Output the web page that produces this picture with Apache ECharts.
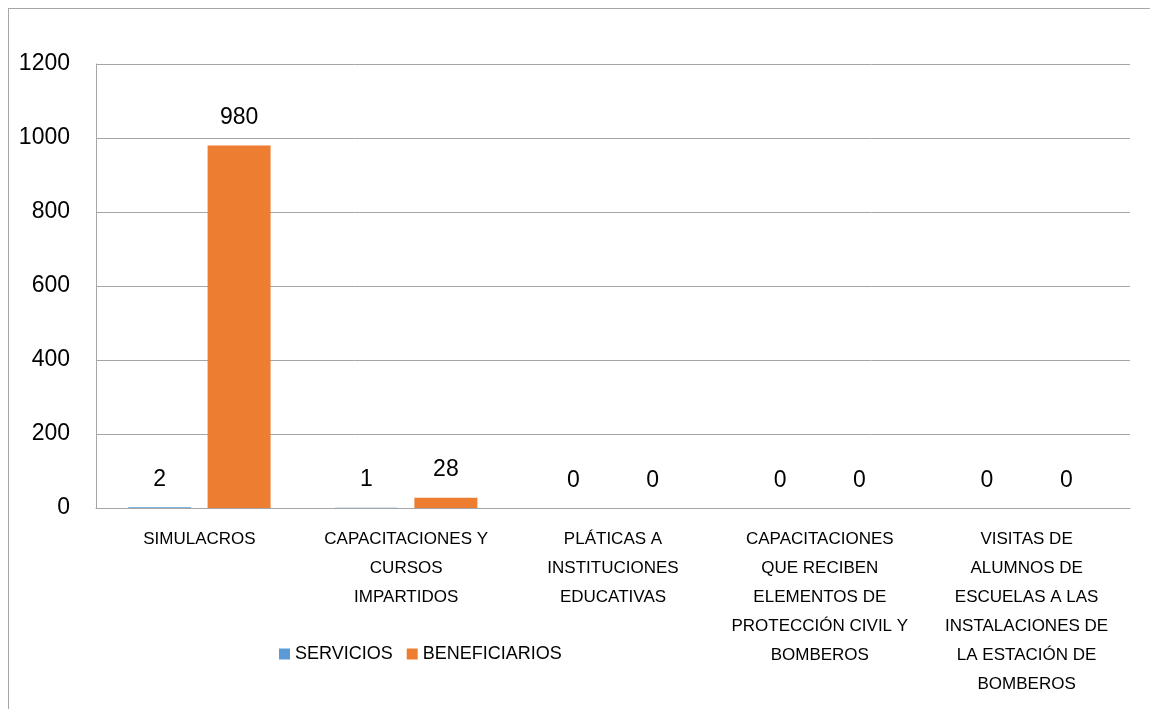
<!DOCTYPE html>
<html>
<head>
<meta charset="utf-8">
<script src="https://cdn.jsdelivr.net/npm/echarts@6/dist/echarts.min.js"></script>
<style>
  html, body { margin: 0; padding: 0; background: #fff; }
  #chart { width: 1150px; height: 709px; }
  #frame { position: absolute; left: 8px; top: 8px; width: 1150px; height: 709px;
           border-left: 1px solid #a6a6a6; border-top: 1px solid #a6a6a6; pointer-events: none; }
</style>
</head>
<body>
<div id="chart"></div>
<div id="frame"></div>
<script>
// categorias del eje x (con los saltos de linea del original)
var categorias = [
    'SIMULACROS',
    'CAPACITACIONES Y\nCURSOS\nIMPARTIDOS',
    'PLÁTICAS A\nINSTITUCIONES\nEDUCATIVAS',
    'CAPACITACIONES\nQUE RECIBEN\nELEMENTOS DE\nPROTECCIÓN CIVIL Y\nBOMBEROS',
    'VISITAS DE\nALUMNOS DE\nESCUELAS A LAS\nINSTALACIONES DE\nLA ESTACIÓN DE\nBOMBEROS'
];
var servicios = [2, 1, 0, 0, 0];
var beneficiarios = [980, 28, 0, 0, 0];

var fuente = 'Liberation Sans';

var chart = echarts.init(document.getElementById('chart'));

var etiqueta = {
    show: true,
    position: 'top',
    distance: 16,
    color: '#000',
    fontSize: 23,
    fontFamily: fuente
};

var option = {
    backgroundColor: '#fff',
    animation: false,
    grid: { left: 96, right: 20, top: 64, bottom: 201 },
    legend: {
        left: 274,
        top: 640,
        itemWidth: 11,
        itemHeight: 11,
        itemGap: 14,
        icon: 'rect',
        textStyle: { color: '#000', fontSize: 18, fontFamily: fuente },
        data: ['SERVICIOS', 'BENEFICIARIOS']
    },
    xAxis: {
        type: 'category',
        data: categorias,
        axisLine: { lineStyle: { color: '#a6a6a6', width: 1 } },
        axisTick: { show: false },
        axisLabel: {
            interval: 0,
            color: '#000',
            fontSize: 17,
            lineHeight: 29,
            margin: 17,
            fontFamily: fuente,
            verticalAlign: 'top'
        }
    },
    yAxis: {
        type: 'value',
        min: 0,
        max: 1200,
        interval: 200,
        axisLine: { show: true, lineStyle: { color: '#a6a6a6', width: 1 } },
        axisTick: { show: false },
        splitLine: { lineStyle: { color: '#a6a6a6', width: 1 } },
        axisLabel: {
            color: '#000',
            fontSize: 23,
            margin: 26,
            fontFamily: fuente,
            formatter: function (v) { return String(v); }
        }
    },
    series: [
        {
            name: 'SERVICIOS',
            type: 'bar',
            data: servicios,
            barWidth: 63,
            barGap: '26%',
            itemStyle: { color: '#5B9BD5' },
            label: etiqueta
        },
        {
            name: 'BENEFICIARIOS',
            type: 'bar',
            data: beneficiarios,
            barWidth: 63,
            itemStyle: { color: '#ED7D31' },
            label: etiqueta
        }
    ]
};

chart.setOption(option);
</script>
</body>
</html>
